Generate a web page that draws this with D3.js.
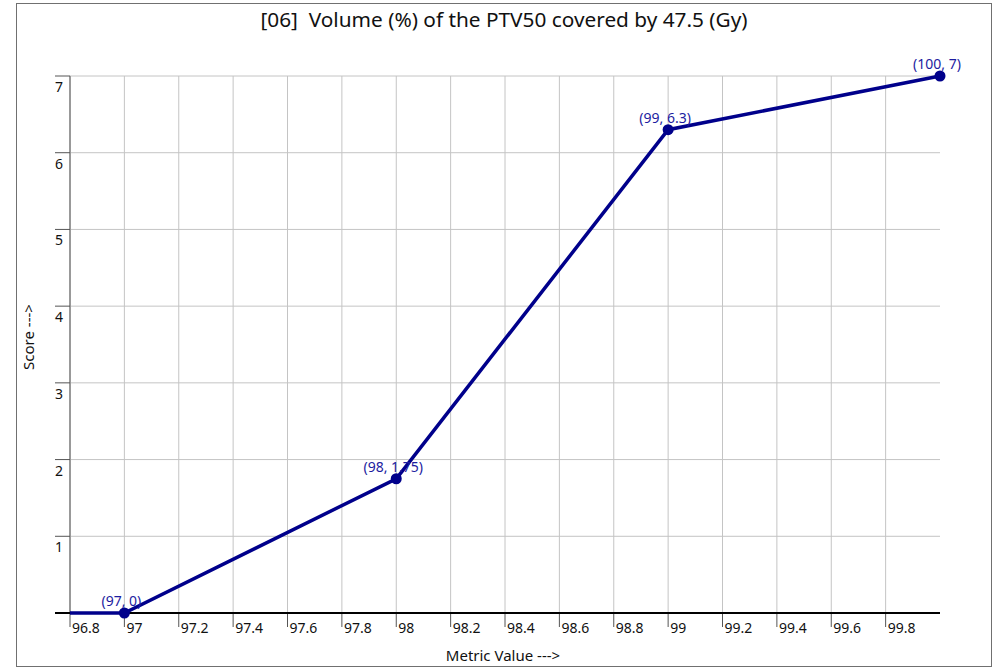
<!DOCTYPE html>
<html>
<head>
<meta charset="utf-8">
<script src="https://cdn.jsdelivr.net/npm/d3@7"></script>
<style>
    body { margin: 0; background: #fff; }
    text { font-family: "Noto Sans", "Open Sans", sans-serif; }
</style>
</head>
<body>
<svg id="chart" width="1001" height="668"></svg>
<script>
// Chart values
const titleText = "[06]  Volume (%) of the PTV50 covered by 47.5 (Gy)";
const metricValues = [97, 98, 99, 100];
const scores = [0, 1.75, 6.3, 7];
const pointLabels = ["(97, 0)", "(98, 1.75)", "(99, 6.3)", "(100, 7)"];
const xTicks = [96.8, 97, 97.2, 97.4, 97.6, 97.8, 98, 98.2, 98.4, 98.6, 98.8, 99, 99.2, 99.4, 99.6, 99.8];
const yTicks = [1, 2, 3, 4, 5, 6, 7];

const svg = d3.select("#chart");

// Outer frame
svg.append("rect")
    .attr("x", 16.5).attr("y", 3.5)
    .attr("width", 975).attr("height", 663)
    .attr("fill", "none")
    .attr("stroke", "#707070")
    .attr("stroke-width", 1);

const xScale = d3.scaleLinear()
    .domain([96.8, 100])
    .range([70, 940]);

const yScale = d3.scaleLinear()
    .domain([0, 7])
    .range([613, 76]);

// Grid lines
svg.append("g").selectAll("line")
    .data(xTicks.slice(1))
    .join("line")
    .attr("x1", d => xScale(d)).attr("x2", d => xScale(d))
    .attr("y1", yScale(7)).attr("y2", yScale(0))
    .attr("stroke", "#c4c4c4");

svg.append("g").selectAll("line")
    .data(yTicks)
    .join("line")
    .attr("x1", xScale(96.8)).attr("x2", xScale(100))
    .attr("y1", d => yScale(d)).attr("y2", d => yScale(d))
    .attr("stroke", "#c4c4c4");

// Y axis: ticks to the left, labels tucked under each tick
const yAxis = svg.append("g");
yAxis.append("line")
    .attr("x1", 70).attr("x2", 70)
    .attr("y1", yScale(7)).attr("y2", yScale(0))
    .attr("stroke", "#999").attr("stroke-width", 2);
yAxis.selectAll(".ytick")
    .data(yTicks)
    .join("line")
    .attr("x1", 55).attr("x2", 70)
    .attr("y1", d => yScale(d)).attr("y2", d => yScale(d))
    .attr("stroke", "#555");
yAxis.selectAll("text")
    .data(yTicks)
    .join("text")
    .attr("x", 55)
    .attr("y", d => yScale(d) + 16)
    .attr("font-size", 14)
    .attr("fill", "#111")
    .text(d => d);

// X axis
const xAxis = svg.append("g");
xAxis.selectAll(".xtick")
    .data(xTicks)
    .join("line")
    .attr("x1", d => xScale(d)).attr("x2", d => xScale(d))
    .attr("y1", yScale(0)).attr("y2", yScale(0) + 14)
    .attr("stroke", "#555");
xAxis.selectAll("text")
    .data(xTicks)
    .join("text")
    .attr("x", d => xScale(d) + 2)
    .attr("y", yScale(0) + 20)
    .attr("font-size", 14)
    .attr("fill", "#111")
    .text(d => d);
xAxis.append("line")
    .attr("x1", 55).attr("x2", xScale(100))
    .attr("y1", yScale(0)).attr("y2", yScale(0))
    .attr("stroke", "#000").attr("stroke-width", 2);

// Score line, held flat from the axis start to the first point
const lineData = [[xScale.domain()[0], scores[0]]].concat(metricValues.map((m, i) => [m, scores[i]]));
const line = d3.line()
    .x(d => xScale(d[0]))
    .y(d => yScale(d[1]));

svg.append("path")
    .attr("d", line(lineData))
    .attr("fill", "none")
    .attr("stroke", "#00008b")
    .attr("stroke-width", 3.5);

svg.append("g").selectAll("circle")
    .data(metricValues)
    .join("circle")
    .attr("cx", d => xScale(d))
    .attr("cy", (d, i) => yScale(scores[i]))
    .attr("r", 5.5)
    .attr("fill", "#00008b");

svg.append("g").selectAll("text")
    .data(metricValues)
    .join("text")
    .attr("x", d => xScale(d) - 3)
    .attr("y", (d, i) => yScale(scores[i]) - 7)
    .attr("text-anchor", "middle")
    .attr("font-size", 14)
    .attr("fill", "#1c1ca0")
    .text((d, i) => pointLabels[i]);

// Titles
svg.append("text")
    .attr("x", 504).attr("y", 27)
    .attr("text-anchor", "middle")
    .attr("font-size", 20.8)
    .attr("fill", "#111")
    .style("white-space", "pre")
    .text(titleText);

svg.append("text")
    .attr("x", 503).attr("y", 661)
    .attr("text-anchor", "middle")
    .attr("font-size", 15)
    .attr("fill", "#111")
    .text("Metric Value --->");

svg.append("text")
    .attr("transform", "translate(34,337) rotate(-90)")
    .attr("text-anchor", "middle")
    .attr("font-size", 15)
    .attr("fill", "#111")
    .text("Score --->");
</script>
</body>
</html>
